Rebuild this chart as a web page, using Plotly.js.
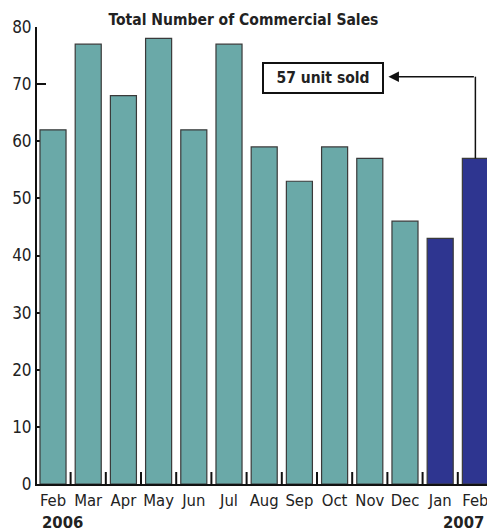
<!DOCTYPE html>
<html>
<head>
<meta charset="utf-8">
<script src="https://cdn.plot.ly/plotly-3.0.1.min.js"></script>
<style>html,body{margin:0;padding:0;background:#fff;}#chart{width:487px;height:531px;}</style>
</head>
<body>
<div id="chart"></div>
<script>
const months = ["Feb","Mar","Apr","May","Jun","Jul","Aug","Sep","Oct","Nov","Dec","Jan","Feb"];
const sales = [62,77,68,78,62,77,59,53,59,57,46,43,57];
const colors2006 = "#6aa9a8";
const colors2007 = "#2e3590";
const barColors = months.map((m,i)=> i>=11 ? colors2007 : colors2006);
const titleText = "Total Number of Commercial Sales";
const calloutText = "57 unit sold";
const yearLabels = ["2006","2007"];

const FONT = "'DejaVu Sans Condensed', 'Liberation Sans Narrow', Arial, sans-serif";
const last = months.length-1;

const data = [{
  type:"bar",
  x: months.map((m,i)=>i),
  y: sales,
  marker:{color:barColors, line:{color:"#3a3a3a", width:1.2}},
  hoverinfo:"none"
}];

const arrowY = 71.3;
const layout = {
  width:487, height:531,
  margin:{l:37, r:0, t:27, b:47},
  paper_bgcolor:"#fff", plot_bgcolor:"#fff",
  showlegend:false,
  bargap:0.26,
  title:{text:"<b>"+titleText+"</b>", x:0.5, xanchor:"center", y:0.963, yanchor:"middle", font:{family:FONT, size:15.5, color:"#222"}},
  xaxis:{
    type:"linear",
    range:[-0.455, 12.33],
    tickmode:"array",
    tickvals: months.map((m,i)=>i),
    ticktext: months,
    ticks:"",
    ticklabeloverflow:"allow",
    showgrid:false, zeroline:false,
    showline:true, linecolor:"#111", linewidth:2,
    tickfont:{family:FONT, size:16.5, color:"#222"},
    fixedrange:true
  },
  yaxis:{
    range:[0,80],
    tickvals:[0,10,20,30,40,50,60,70,80],
    ticks:"inside", ticklen:9, tickwidth:2, tickcolor:"#111",
    layer:"below traces",
    showgrid:false, zeroline:false,
    showline:true, linecolor:"#111", linewidth:2,
    tickfont:{family:FONT, size:17, color:"#222"},
    fixedrange:true
  },
  shapes: [
    ...months.slice(0,last).map((m,i)=>({type:"line", layer:"above", xref:"x", yref:"y", x0:i+0.5, x1:i+0.5, y0:0, y1:2.1, line:{color:"#111", width:2}})),
    {type:"line", xref:"x", yref:"y", x0:last, x1:last, y0:sales[last], y1:arrowY, line:{color:"#111", width:1.5}}
  ],
  annotations:[
    {xref:"x", yref:"y", x:7.67, y:71.05, text:"<b>"+calloutText+"</b>", showarrow:false,
     font:{family:FONT, size:15.5, color:"#222"}, bordercolor:"#111", borderwidth:2, bgcolor:"#fff",
     width:116, height:26, align:"center"},
    {xref:"x", yref:"y", x:9.53, y:arrowY, ax:last, ay:arrowY, axref:"x", ayref:"y", text:"", showarrow:true,
     arrowhead:2, arrowsize:1.4, arrowwidth:1.5, arrowcolor:"#111", standoff:0},
    {xref:"paper", yref:"paper", x:0, y:0, xshift:3, yshift:-38, yanchor:"middle", xanchor:"left", text:"<b>"+yearLabels[0]+"</b>", showarrow:false,
     font:{family:FONT, size:16.5, color:"#222"}},
    {xref:"paper", yref:"paper", x:1, y:0, xshift:-1, yshift:-38, yanchor:"middle", xanchor:"right", text:"<b>"+yearLabels[1]+"</b>", showarrow:false,
     font:{family:FONT, size:16.5, color:"#222"}}
  ]
};

Plotly.newPlot("chart", data, layout, {displayModeBar:false, staticPlot:true});
</script>
</body>
</html>
